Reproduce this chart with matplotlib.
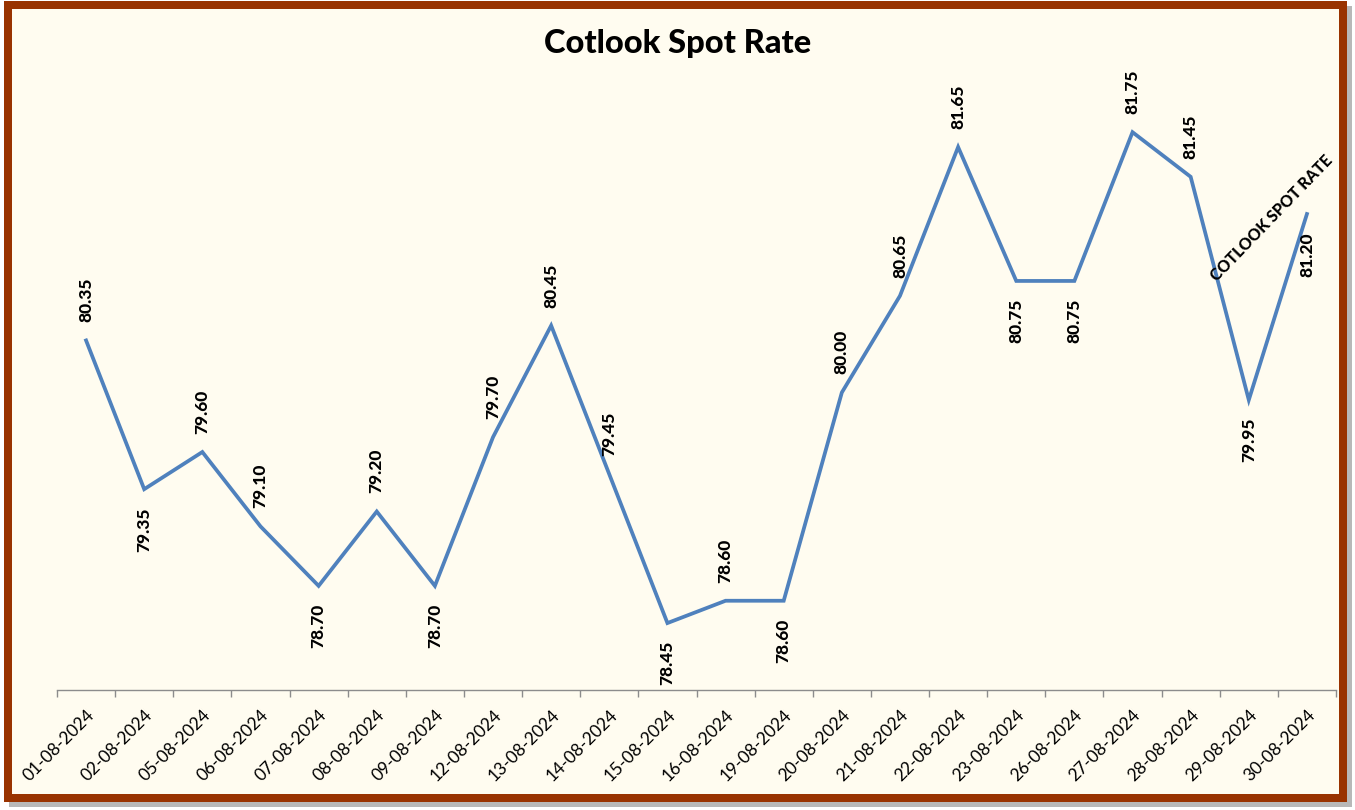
import matplotlib
matplotlib.use("Agg")
import matplotlib.pyplot as plt
from matplotlib.patches import Rectangle

dates = ['01-08-2024', '02-08-2024', '05-08-2024', '06-08-2024', '07-08-2024',
         '08-08-2024', '09-08-2024', '12-08-2024', '13-08-2024', '14-08-2024',
         '15-08-2024', '16-08-2024', '19-08-2024', '20-08-2024', '21-08-2024',
         '22-08-2024', '23-08-2024', '26-08-2024', '27-08-2024', '28-08-2024',
         '29-08-2024', '30-08-2024']
values = [80.35, 79.35, 79.60, 79.10, 78.70, 79.20, 78.70, 79.70, 80.45, 79.45,
          78.45, 78.60, 78.60, 80.00, 80.65, 81.65, 80.75, 80.75, 81.75, 81.45,
          79.95, 81.20]
label_side = ['above', 'below', 'above', 'above', 'below', 'above', 'below',
              'above', 'above', 'above', 'below', 'above', 'below', 'above',
              'above', 'above', 'below', 'below', 'above', 'above', 'below',
              'below']
title = 'Cotlook Spot Rate'
series_name = 'COTLOOK SPOT RATE'

W, H = 1355, 810
fig = plt.figure(figsize=(W / 100, H / 100), dpi=100)
fig.patch.set_facecolor('white')

def fx(px):
    return px / W

def fy(py):
    return 1 - py / H

# shadow
fig.patches.append(Rectangle((fx(9), fy(807)), fx(1352) - fx(9), fy(6) - fy(807),
                             transform=fig.transFigure, facecolor='#b8b8b8',
                             edgecolor='none', zorder=-3))
# outer border
fig.patches.append(Rectangle((fx(4), fy(802)), fx(1347) - fx(4), fy(1) - fy(802),
                             transform=fig.transFigure, facecolor='#993300',
                             edgecolor='none', zorder=-2))
# inner background
fig.patches.append(Rectangle((fx(12), fy(794)), fx(1339) - fx(12), fy(9) - fy(794),
                             transform=fig.transFigure, facecolor='#fffcf0',
                             edgecolor='none', zorder=-1))

ax = fig.add_axes([fx(57), fy(690), fx(1336) - fx(57), fy(95) - fy(690)])
ax.set_facecolor('none')

x = list(range(len(dates)))
ax.plot(x, values, color='#4f81bd', linewidth=2.7, solid_joinstyle='miter', zorder=3)

ax.set_xlim(-0.5, len(dates) - 0.5)
ax.set_ylim(78.0, 82.0)

for i, (v, side) in enumerate(zip(values, label_side)):
    off = 13 if side == 'above' else -13
    ax.annotate(f'{v:.2f}', (i, v), xytext=(0, off), textcoords='offset points',
                rotation=90, ha='center', va='bottom' if side == 'above' else 'top',
                fontsize=12.5, fontweight='black', family='Lato', color='black')

ax.text(20.4, 81.17, series_name, rotation=46, ha='center', va='center',
        fontsize=11.5, fontweight='black', family='Lato', color='black',
        rotation_mode='anchor')

for s in ['left', 'right', 'top']:
    ax.spines[s].set_visible(False)
ax.spines['bottom'].set_color('#8c8c8c')
ax.spines['bottom'].set_linewidth(1.0)
ax.set_yticks([])

ax.set_xticks([i - 0.5 for i in range(len(dates) + 1)], minor=False)
ax.set_xticklabels([])
ax.tick_params(axis='x', which='major', length=5, color='#8c8c8c', width=1.0)
ax.set_xticks(x, minor=True)
ax.set_xticklabels(dates, minor=True, rotation=45, ha='right', va='top',
                   rotation_mode='anchor', fontsize=12.5, family='Lato')
ax.tick_params(axis='x', which='minor', length=0, pad=12)

fig.text(fx(678), fy(43), title, ha='center', va='center', fontsize=23.5,
         fontweight='black', family='Lato')

fig.savefig('out.png', dpi=100)
